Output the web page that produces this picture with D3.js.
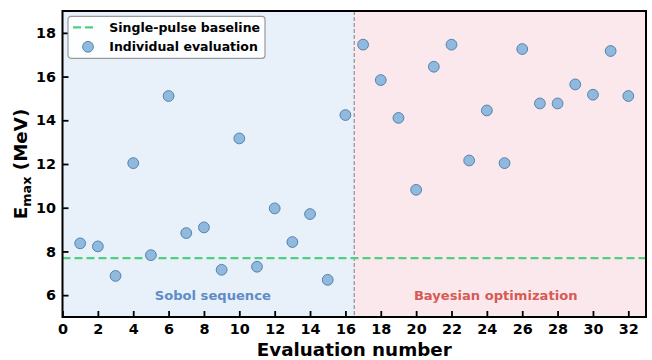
<!DOCTYPE html>
<html>
<head>
<meta charset="utf-8">
<script src="https://cdn.jsdelivr.net/npm/d3@7"></script>
<style>
  body { margin: 0; background: #fff; }
  text { font-family: "DejaVu Sans", sans-serif; font-weight: bold; }
</style>
</head>
<body>
<div id="chart"></div>
<script>
// evaluation index and measured E_max (MeV)
var evals = d3.range(1, 33);
var emax = [8.37, 8.23, 6.88, 12.04, 7.83, 15.11, 8.84, 9.10, 7.16, 13.17, 7.30, 9.97, 8.43, 9.71, 6.70, 14.24,
            17.46, 15.84, 14.11, 10.82, 16.45, 17.46, 12.16, 14.45, 12.04, 17.26, 14.77, 14.77, 15.64, 15.17, 17.17, 15.11];
var baseline = 7.69;
var splitAt = 16.5;
var xTicks = d3.range(0, 33, 2);
var yTicks = [6, 8, 10, 12, 14, 16, 18];
var phases = ["Sobol sequence", "Bayesian optimization"];

var W = 652, H = 360;
var margin = {top: 11, right: 6, bottom: 43, left: 62.5};
var width = W - margin.left - margin.right,
    height = H - margin.top - margin.bottom;

var svg = d3.select("#chart").append("svg")
    .attr("width", W).attr("height", H);
var g = svg.append("g")
    .attr("transform", "translate(" + margin.left + "," + margin.top + ")");

var x = d3.scaleLinear().domain([0, 33]).range([0, width]);
var y = d3.scaleLinear().domain([5, 19]).range([height, 0]);

// phase shading
g.append("rect").attr("x", x(0)).attr("y", 0)
  .attr("width", x(splitAt) - x(0)).attr("height", height)
  .attr("fill", "#e8f0fa");
g.append("rect").attr("x", x(splitAt)).attr("y", 0)
  .attr("width", x(33) - x(splitAt)).attr("height", height)
  .attr("fill", "#fbe8ec");

g.append("line")
  .attr("x1", x(splitAt)).attr("x2", x(splitAt))
  .attr("y1", 0).attr("y2", height)
  .attr("stroke", "#909090").attr("stroke-width", 1.2)
  .attr("stroke-dasharray", "4,2");

// baseline
g.append("line")
  .attr("x1", 0).attr("x2", width)
  .attr("y1", y(baseline)).attr("y2", y(baseline))
  .attr("stroke", "#4fd080").attr("stroke-width", 2.2)
  .attr("stroke-dasharray", "8,4");

// phase labels
g.append("text").attr("x", x(8.5)).attr("y", y(6)).attr("dy", "0.35em")
  .attr("text-anchor", "middle").attr("font-size", 13.1)
  .attr("fill", "#5f8cc6").text(phases[0]);
g.append("text").attr("x", x(24.5)).attr("y", y(6)).attr("dy", "0.35em")
  .attr("text-anchor", "middle").attr("font-size", 13.1)
  .attr("fill", "#d65a55").text(phases[1]);

// points
g.selectAll("circle.pt")
  .data(evals)
  .enter().append("circle")
    .attr("class", "pt")
    .attr("cx", function(d) { return x(d); })
    .attr("cy", function(d, i) { return y(emax[i]); })
    .attr("r", 5.4)
    .attr("fill", "#8fb9dd")
    .attr("stroke", "#4d79a6")
    .attr("stroke-width", 0.9);

// axes, ticks inward
var xAxis = g.append("g").attr("transform", "translate(0," + height + ")")
  .call(d3.axisBottom(x).tickValues(xTicks).tickSizeInner(-6).tickSizeOuter(0).tickPadding(6.5));
var yAxis = g.append("g")
  .call(d3.axisLeft(y).tickValues(yTicks).tickSizeInner(-6).tickSizeOuter(0).tickPadding(6.5));
[xAxis, yAxis].forEach(function(a) {
  a.select(".domain").remove();
  a.selectAll(".tick line").attr("stroke", "#000").attr("stroke-width", 1.8);
  a.selectAll(".tick text").attr("font-size", 14.4).attr("fill", "#000")
    .style("font-family", "DejaVu Sans").style("font-weight", "bold");
});

// frame
g.append("rect").attr("x", 0).attr("y", 0).attr("width", width).attr("height", height)
  .attr("fill", "none").attr("stroke", "#000").attr("stroke-width", 2);

// axis labels
svg.append("text").attr("x", margin.left + width / 2).attr("y", 355.5)
  .attr("text-anchor", "middle").attr("font-size", 18.3).text("Evaluation number");

var yl = svg.append("text")
  .attr("transform", "translate(27," + (margin.top + height / 2) + ") rotate(-90)")
  .attr("text-anchor", "middle").attr("font-size", 18.3);
yl.append("tspan").text("E");
yl.append("tspan").attr("font-size", 12.8).attr("dy", 4).text("max");
yl.append("tspan").attr("dy", -4).text(" (MeV)");

// legend
var lg = g.append("g").attr("transform", "translate(5.5,5.3)");
lg.append("rect").attr("width", 197).attr("height", 42).attr("rx", 3)
  .attr("fill", "#fff").attr("fill-opacity", 0.9)
  .attr("stroke", "#999").attr("stroke-width", 1.2);
lg.append("line").attr("x1", 5).attr("x2", 29).attr("y1", 11).attr("y2", 11)
  .attr("stroke", "#4fd080").attr("stroke-width", 2.2).attr("stroke-dasharray", "8,4");
lg.append("circle").attr("cx", 20).attr("cy", 30.5).attr("r", 5.4)
  .attr("fill", "#8fb9dd").attr("stroke", "#4d79a6").attr("stroke-width", 0.9);
lg.append("text").attr("x", 41.3).attr("y", 11).attr("dy", "0.35em")
  .attr("font-size", 12.5).text("Single-pulse baseline");
lg.append("text").attr("x", 41.3).attr("y", 30.5).attr("dy", "0.35em")
  .attr("font-size", 12.5).text("Individual evaluation");
</script>
</body>
</html>
